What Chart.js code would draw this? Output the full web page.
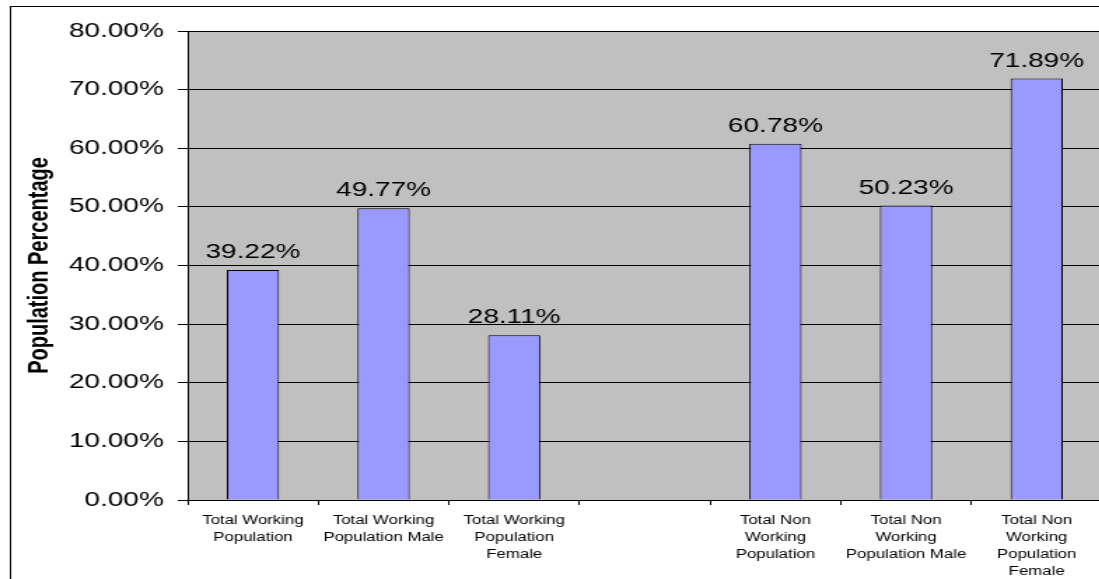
<!DOCTYPE html>
<html>
<head>
<meta charset="utf-8">
<script src="https://cdn.jsdelivr.net/npm/chart.js@4"></script>
<style>
  html, body { margin: 0; padding: 0; overflow: hidden; background: #fff; }
  #popChart { display: block; }
</style>
</head>
<body>
<!-- canvas is drawn narrow and stretched wide, like the exported chart image -->
<canvas id="popChart" width="787" height="579" style="width:1102px;height:579px"></canvas>
<script>
const categories = [
    ["Total Working", "Population"],
    ["Total Working", "Population Male"],
    ["Total Working", "Population", "Female"],
    "",
    ["Total Non", "Working", "Population"],
    ["Total Non", "Working", "Population Male"],
    ["Total Non", "Working", "Population", "Female"]
];
const percentages = [39.22, 49.77, 28.11, null, 60.78, 50.23, 71.89];
const yTicks = [0, 10, 20, 30, 40, 50, 60, 70, 80];

const FONT = "'Liberation Sans', Arial, sans-serif";

// gray plot area and the outer frame
const backdrop = {
    id: "backdrop",
    beforeDraw(chart) {
        const ctx = chart.ctx, a = chart.chartArea;
        ctx.save();
        ctx.fillStyle = "#fff";
        ctx.fillRect(0, 0, chart.width, chart.height);
        ctx.fillStyle = "#C0C0C0";
        ctx.fillRect(a.left, a.top, a.right - a.left, a.bottom - a.top);
        ctx.strokeStyle = "#000";
        ctx.lineWidth = 1;
        ctx.strokeRect(7.5, 6.5, chart.width + 20, chart.height + 20);
        ctx.restore();
    }
};

// percentage text above each bar
const valueLabels = {
    id: "valueLabels",
    afterDatasetsDraw(chart) {
        const ctx = chart.ctx;
        const meta = chart.getDatasetMeta(0);
        ctx.save();
        ctx.font = "20px " + FONT;
        ctx.fillStyle = "#000";
        ctx.textAlign = "center";
        ctx.textBaseline = "alphabetic";
        meta.data.forEach((bar, i) => {
            const v = percentages[i];
            if (v == null) return;
            ctx.fillText(v.toFixed(2) + "%", bar.x, bar.y - 12);
        });
        ctx.restore();
    }
};

new Chart(document.getElementById("popChart"), {
    type: "bar",
    data: {
        labels: categories,
        datasets: [{
            data: percentages,
            backgroundColor: "#9999FF",
            borderColor: "#000",
            borderWidth: 1,
            categoryPercentage: 1,
            barPercentage: 0.4
        }]
    },
    options: {
        responsive: false,
        animation: false,
        layout: { padding: { left: 8, top: 31, right: 0, bottom: 0 } },
        plugins: {
            legend: { display: false },
            tooltip: { enabled: false }
        },
        scales: {
            x: {
                offset: true,
                border: { display: true, color: "#000", width: 1 },
                grid: { display: true, drawOnChartArea: false, offset: true, color: "#000", tickLength: 5 },
                ticks: {
                    color: "#000",
                    font: { family: FONT, size: 12, lineHeight: 1.42 },
                    padding: 7,
                    maxRotation: 0,
                    minRotation: 0,
                    autoSkip: false
                },
                afterFit(scale) { scale.height = 79; }
            },
            y: {
                min: yTicks[0],
                max: yTicks[yTicks.length - 1],
                border: { display: true, color: "#000", width: 1 },
                grid: { color: "#000", lineWidth: 1, tickLength: 7 },
                ticks: {
                    stepSize: 10,
                    color: "#000",
                    padding: 10,
                    font: { family: FONT, size: 20 },
                    callback: (v) => v.toFixed(2) + "%"
                },
                afterBuildTicks(scale) { scale.ticks = yTicks.map(v => ({ value: v })); },
                title: {
                    display: true,
                    text: "Population Percentage",
                    color: "#000",
                    font: { family: FONT, size: 20, weight: "bold" },
                    padding: { top: 8, bottom: 8 }
                },
                afterFit(scale) { scale.width = 126; }
            }
        }
    },
    plugins: [backdrop, valueLabels]
});
</script>
</body>
</html>
